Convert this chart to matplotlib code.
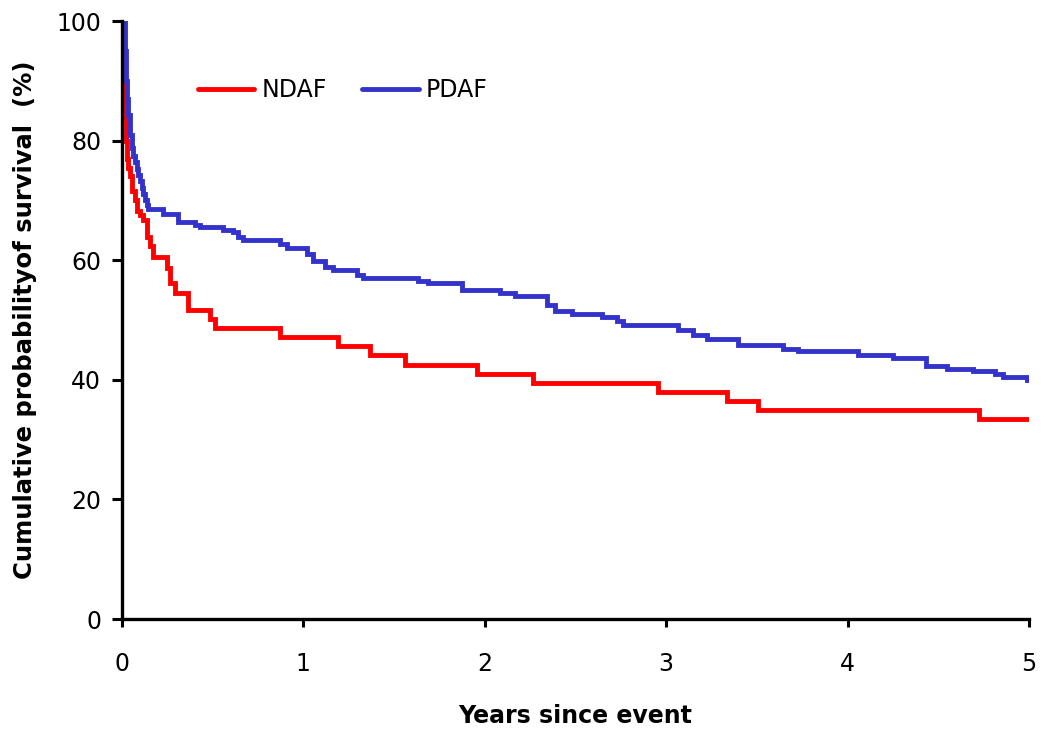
import matplotlib
matplotlib.use('Agg')
import matplotlib.pyplot as plt

# NDAF survival steps (years, % surviving after the step)
ndaf_t = [0, 0.012, 0.017, 0.022, 0.026, 0.035, 0.044, 0.053, 0.070, 0.081, 0.100, 0.117,
          0.136, 0.154, 0.173, 0.246, 0.265, 0.292, 0.366, 0.485, 0.513, 0.871, 1.193,
          1.367, 1.560, 1.955, 2.267, 2.957, 3.333, 3.508, 4.724, 4.995]
ndaf_v = [100, 90, 84, 80, 77, 75.5, 74, 71.5, 70, 68.2, 67.5, 66.7,
          63.9, 62.3, 60.6, 58.7, 56.2, 54.6, 51.7, 50.2, 48.6, 47.1, 45.6,
          44.1, 42.5, 41.0, 39.5, 38.0, 36.5, 35.0, 33.5, 33.5]

# PDAF survival steps
pdaf_t = [0, 0.016, 0.022, 0.028, 0.035, 0.044, 0.053, 0.062, 0.072, 0.081, 0.090, 0.099,
          0.108, 0.117, 0.127, 0.136, 0.145, 0.228, 0.310, 0.400, 0.430, 0.558, 0.614,
          0.641, 0.669, 0.871, 0.908, 1.018, 1.055, 1.119, 1.165, 1.294, 1.331, 1.633,
          1.689, 1.873, 2.084, 2.166, 2.341, 2.387, 2.479, 2.644, 2.727, 2.764, 3.067,
          3.149, 3.223, 3.397, 3.646, 3.728, 4.060, 4.250, 4.430, 4.546, 4.693, 4.810,
          4.857, 4.987, 4.995]
pdaf_v = [100, 95, 90, 87, 84.3, 81, 78.7, 77.5, 76.5, 75.3, 74.2, 73.2,
          72.0, 71.0, 70.0, 69.2, 68.5, 67.7, 66.4, 65.9, 65.5, 65.0, 64.7,
          63.9, 63.3, 62.7, 62.0, 61.1, 59.9, 58.9, 58.4, 57.6, 57.0, 56.6,
          56.2, 55.0, 54.6, 54.1, 52.5, 51.5, 51.0, 50.5, 49.8, 49.2, 48.4,
          47.5, 46.9, 45.8, 45.2, 44.8, 44.1, 43.6, 42.3, 41.8, 41.4, 41.0,
          40.5, 40.0, 40.0]

x_ticks = [0, 1, 2, 3, 4, 5]
y_ticks = [0, 20, 40, 60, 80, 100]

plt.rcParams['font.family'] = 'DejaVu Sans'

fig = plt.figure(figsize=(10.45, 7.35), dpi=100)
ax = fig.add_axes([0.1167, 0.1578, 0.868, 0.8136])

ax.step(ndaf_t, ndaf_v, where='post', color='#ff0000', lw=3.5,
        solid_capstyle='round', solid_joinstyle='miter', label='NDAF')
ax.step(pdaf_t, pdaf_v, where='post', color='#3333cc', lw=3.5,
        solid_capstyle='round', solid_joinstyle='miter', label='PDAF')

ax.set_xlim(0, 5)
ax.set_ylim(0, 100)
ax.set_xticks(x_ticks)
ax.set_yticks(y_ticks)
ax.tick_params(axis='x', direction='out', length=6, width=2.2, pad=18, labelsize=17)
ax.tick_params(axis='y', direction='out', length=7, width=2.2, pad=8, labelsize=17)
for s in ['top', 'right']:
    ax.spines[s].set_visible(False)
for s in ['left', 'bottom']:
    ax.spines[s].set_linewidth(2.4)

ax.set_xlabel('Years since event', fontsize=17, fontweight='bold', labelpad=20)
ax.set_ylabel('Cumulative probabilityof survival  (%)', fontsize=17.5, fontweight='bold', labelpad=14)

ax.legend(loc='upper left', bbox_to_anchor=(0.06, 0.94), ncol=2, frameon=False,
          fontsize=17, handlelength=2.4, handletextpad=0.3, columnspacing=1.5)

fig.savefig('out.png', dpi=100)
